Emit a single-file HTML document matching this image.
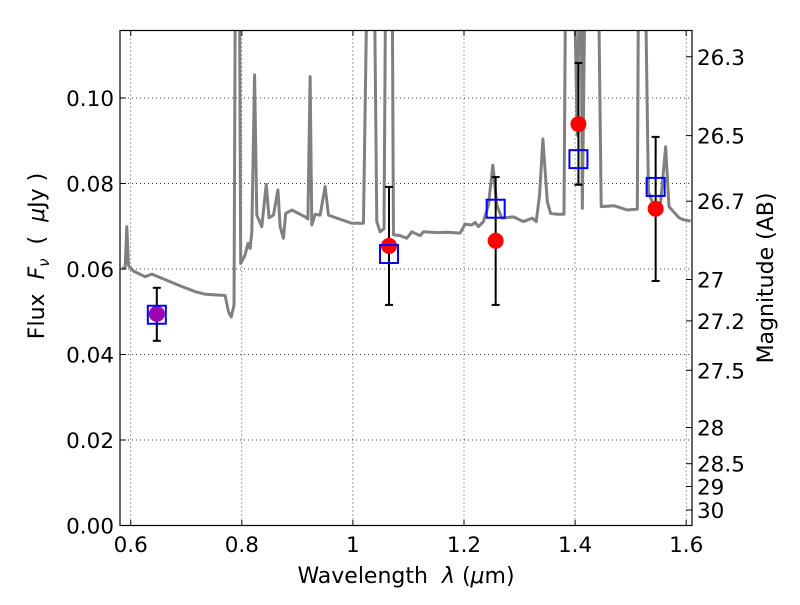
<!DOCTYPE html>
<html><head><meta charset="utf-8"><style>
body{margin:0;background:#fff;}
svg{font-family:"DejaVu Sans","Liberation Sans",sans-serif;}
</style></head><body>
<svg id="c" width="800" height="600" xmlns="http://www.w3.org/2000/svg">
<defs><clipPath id="pc"><rect x="120" y="30.5" width="572" height="495"/></clipPath></defs>
<rect x="0" y="0" width="800" height="600" fill="#fff"/>
<g id="grid"></g>
<g id="spec" clip-path="url(#pc)"></g>
<g id="pts"></g>
<rect x="120" y="30.5" width="572" height="495" fill="none" stroke="#000" stroke-width="1.2"/>
<g id="axes"></g>
<text x="406" y="583" font-size="22" text-anchor="middle">Wavelength&#160;&#160;<tspan font-style="italic">λ</tspan>&#160;(<tspan font-style="italic">μ</tspan>m)</text>
<text transform="translate(44,256) rotate(-90)" font-size="22" text-anchor="middle">Flux&#160;&#160;<tspan font-style="italic">F</tspan><tspan font-style="italic" font-size="15" dy="5">ν</tspan><tspan dy="-5">&#160;&#160;(&#160;&#160;</tspan><tspan font-style="italic">μ</tspan>Jy&#160;)</text>
<text transform="translate(773,278) rotate(-90)" font-size="22" text-anchor="middle">Magnitude (AB)</text>
</svg>
<script>
const specLam=[.584,.590,.593,.596,.605,.626,.638,.668,.692,.716,.734,.770,.776,.781,.786,.789,.795,.798,.806,.811,.815,.818,.823,.827,.836,.844,.849,.857,.865,.869,.875,.879,.890,.914,.919,.923,.926,.932,.941,.950,.956,.971,.998,1.019,1.028,1.037,1.043,1.049,1.056,1.060,1.070,1.073,1.085,1.097,1.106,1.121,1.127,1.151,1.169,1.193,1.202,1.214,1.220,1.226,1.235,1.244,1.252,1.259,1.268,1.289,1.307,1.323,1.330,1.336,1.342,1.350,1.356,1.368,1.380,1.384,1.395,1.404,1.410,1.413,1.420,1.440,1.447,1.470,1.494,1.512,1.515,1.524,1.532,1.542,1.553,1.563,1.569,1.587,1.596,1.608];
const specFlux=[.0602,.0602,.0699,.0609,.0595,.0582,.0588,.0572,.0559,.0547,.0541,.0538,.0500,.0488,.0516,.15,.15,.0613,.0633,.0660,.0648,.0687,.1054,.0726,.0699,.0798,.0720,.0726,.0785,.0699,.0672,.0730,.0738,.0722,.0717,.1050,.0703,.0728,.0726,.0793,.0726,.0719,.0707,.0707,.15,.15,.0711,.0687,.0694,.15,.15,.0680,.0678,.0672,.0687,.0678,.0687,.0685,.0686,.0684,.0705,.0703,.0709,.0699,.0711,.0750,.0843,.0750,.0719,.0722,.0711,.0719,.0711,.0773,.0904,.0757,.0730,.0728,.0728,.15,.15,.0913,.15,.0742,.15,.15,.0746,.0748,.0738,.0740,.15,.15,.0781,.0746,.0742,.0886,.0746,.0720,.0715,.0712];
const bandLam=[0.647,1.065,1.257,1.406,1.545];
const obsFlux=[0.0495,0.0654,0.0666,0.0939,0.0741];
const errLo=[0.0432,0.0516,0.0516,0.0797,0.0572];
const errHi=[0.0556,0.0792,0.0815,0.1082,0.0909];
const modelFlux=[0.0493,0.0635,0.0741,0.0857,0.0792];
const xTicks=[0.6,0.8,1.0,1.2,1.4,1.6];
const xTickLabels=["0.6","0.8","1","1.2","1.4","1.6"];
const yTicks=[0,0.02,0.04,0.06,0.08,0.10];
const yTickLabels=["0.00","0.02","0.04","0.06","0.08","0.10"];
const magTicks=[26.3,26.5,26.7,27,27.2,27.5,28,28.5,29,30];
const magTickLabels=["26.3","26.5","26.7","27","27.2","27.5","28","28.5","29","30"];

const NS="http://www.w3.org/2000/svg";
const X=l=>130.7+(l-0.6)*555.5;
const Y=f=>525.5-f*4275;
function mk(t,a,p){const e=document.createElementNS(NS,t);for(const k in a)e.setAttribute(k,a[k]);p.appendChild(e);return e;}
const grid=document.getElementById('grid'),axes=document.getElementById('axes');
xTicks.forEach((v,i)=>{const x=X(v);
 const g=mk('line',{x1:x,x2:x,y1:30.5,y2:525.5,stroke:'#000','stroke-width':0.7,'stroke-dasharray':'1,3'},grid);
 
 
 mk('line',{x1:x,x2:x,y1:525.5,y2:520,stroke:'#000'},axes);
 mk('line',{x1:x,x2:x,y1:30.5,y2:36,stroke:'#000'},axes);
 const t=mk('text',{x:x,y:552,'font-size':21.5,'text-anchor':'middle'},axes);t.textContent=xTickLabels[i];
 
 
});
yTicks.forEach((v,i)=>{const y=Y(v);
 if(i>0){const g=mk('line',{x1:120,x2:692,y1:y,y2:y,stroke:'#000','stroke-width':0.7,'stroke-dasharray':'1,3'},grid);
 
 }
 mk('line',{x1:120,x2:126,y1:y,y2:y,stroke:'#000'},axes);
 const t=mk('text',{x:114,y:y+8,'font-size':21.5,'text-anchor':'end'},axes);t.textContent=yTickLabels[i];
 
 
});
magTicks.forEach((m,i)=>{const f=Math.pow(10,(23.9-m)/2.5);const y=Y(f);
 mk('line',{x1:686,x2:692,y1:y,y2:y,stroke:'#000'},axes);
 const t=mk('text',{x:697,y:y+8,'font-size':21.5},axes);t.textContent=magTickLabels[i];
 
 
});
const spec=document.getElementById('spec');
const pl=mk('polyline',{points:specLam.map((l,i)=>X(l)+','+Y(specFlux[i])).join(' '),fill:'none',stroke:'#808080','stroke-width':3,'stroke-linejoin':'round'},spec);


const pts=document.getElementById('pts');
bandLam.forEach((l,i)=>{const x=X(l);
 const eb=mk('g',{stroke:'#000','stroke-width':2},pts);
 
 
 mk('line',{x1:x,x2:x,y1:Y(errLo[i]),y2:Y(errHi[i])},eb);
 mk('line',{x1:x-4,x2:x+4,y1:Y(errLo[i]),y2:Y(errLo[i])},eb);
 mk('line',{x1:x-4,x2:x+4,y1:Y(errHi[i]),y2:Y(errHi[i])},eb);
 const c=mk('circle',{cx:x,cy:Y(obsFlux[i]),r:8,fill:i==0?'#a000b0':'#ff0000'},pts);
 
 
 const s=mk('rect',{x:x-9,y:Y(modelFlux[i])-9,width:18,height:18,fill:'none',stroke:'#0000ff','stroke-width':2},pts);
 
 
});
</script>
</body></html>
